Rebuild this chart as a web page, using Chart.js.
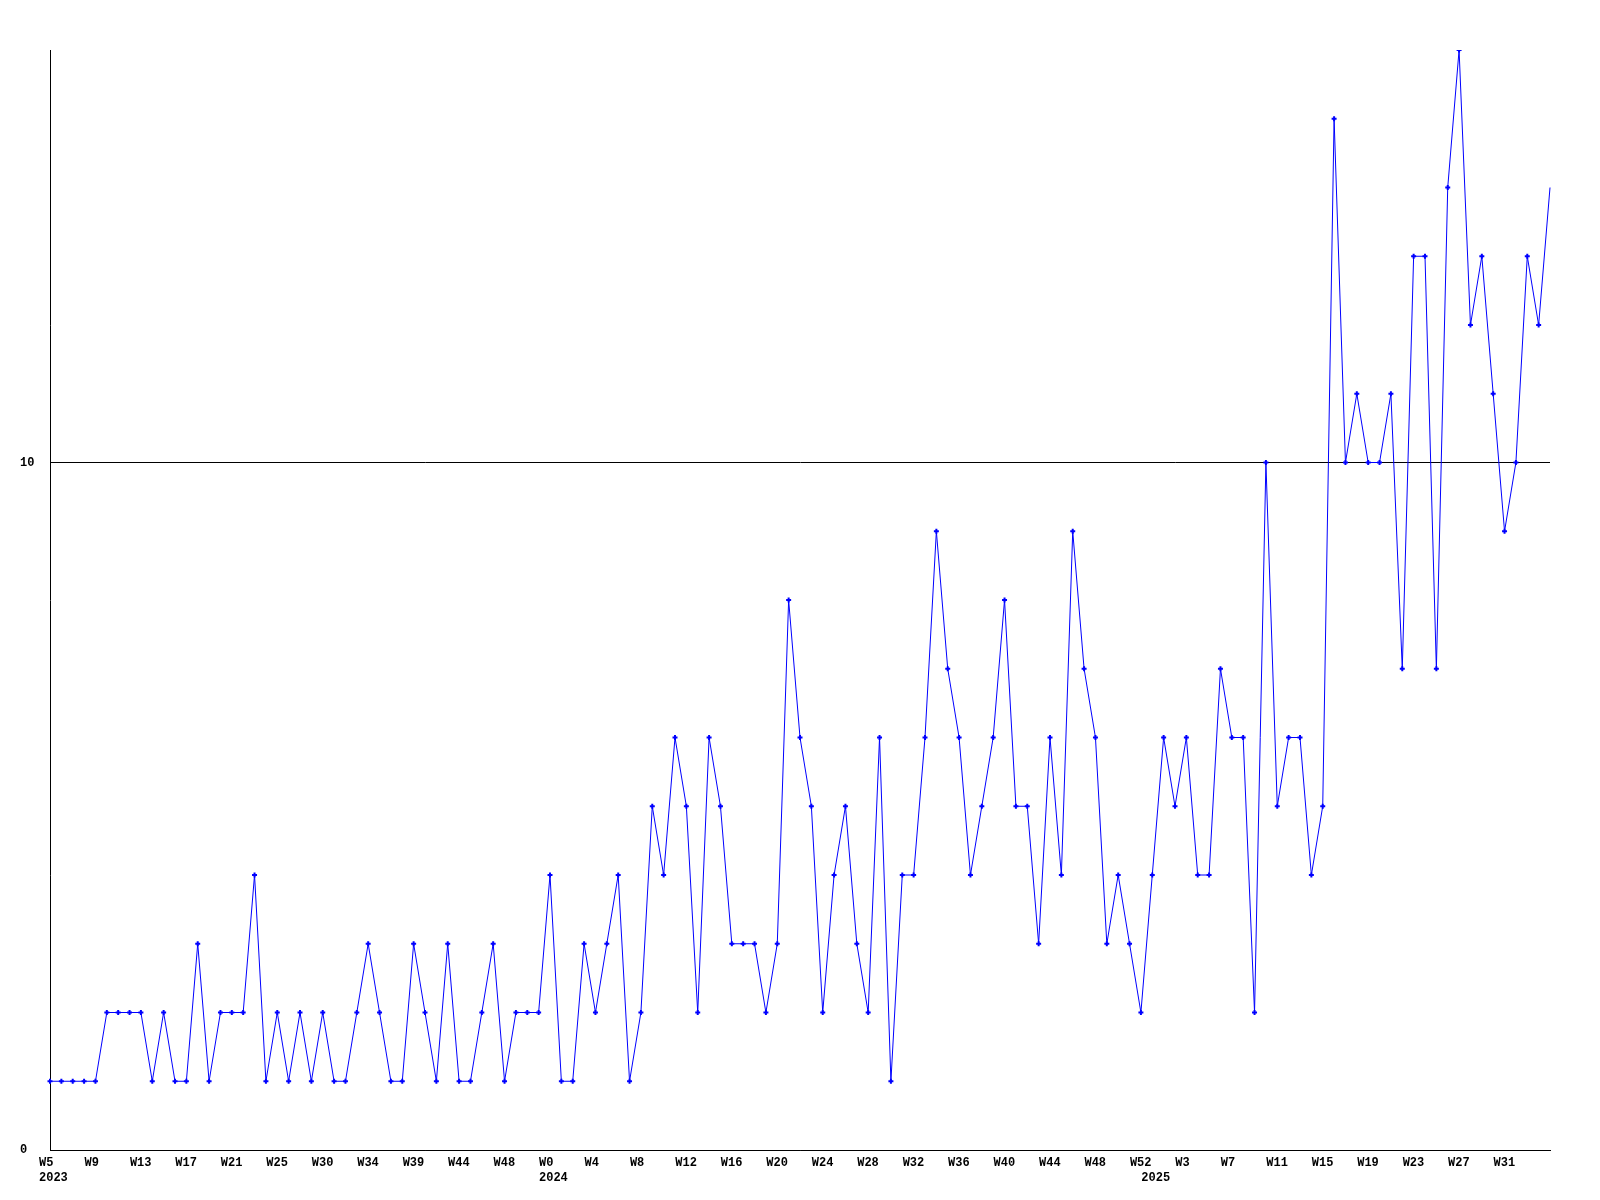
<!DOCTYPE html>
<html>
<head>
<meta charset="utf-8">
<title>Weekly count</title>
<script src="https://cdn.jsdelivr.net/npm/chart.js@4/dist/chart.umd.min.js"></script>
<style>
  html, body { margin: 0; padding: 0; background: #fff; }
  #wrap { width: 1600px; height: 1200px; }
</style>
</head>
<body>
<div id="wrap"><canvas id="weekChart" width="1600" height="1200"></canvas></div>
<script>
// week numbers per year (some 2023 weeks are absent from the data)
const weeks2023 = [5, 6, 7, 8, 9, 10, 11, 12, 13, 14, 15, 16, 17, 18, 19, 20, 21, 22, 23, 24, 25, 26,
    28, 29, 30, 31, 32, 33, 34, 35, 37, 38, 39, 40, 42, 43, 44, 45, 46, 47, 48, 49, 50, 51];
const weeks2024 = [0, 1, 2, 3, 4, 5, 6, 7, 8, 9, 10, 11, 12, 13, 14, 15, 16, 17, 18, 19, 20, 21, 22, 23, 24, 25, 26,
    27, 28, 29, 30, 31, 32, 33, 34, 35, 36, 37, 38, 39, 40, 41, 42, 43, 44, 45, 46, 47, 48, 49, 50, 51, 52];
const weeks2025 = [0, 1, 2, 3, 4, 5, 6, 7, 8, 9, 10, 11, 12, 13, 14, 15, 16, 17, 18, 19, 20, 21, 22, 23, 24, 25, 26,
    27, 28, 29, 30, 31, 32, 33, 34, 35];
const years = ['2023', '2024', '2025'];

const counts = [
    1, 1, 1, 1, 1, 2, 2, 2, 2, 1, 2, 1, 1, 3, 1, 2, 2, 2, 4, 1,
    2, 1, 2, 1, 2, 1, 1, 2, 3, 2, 1, 1, 3, 2, 1, 3, 1, 1, 2, 3,
    1, 2, 2, 2, 4, 1, 1, 3, 2, 3, 4, 1, 2, 5, 4, 6, 5, 2, 6, 5,
    3, 3, 3, 2, 3, 8, 6, 5, 2, 4, 5, 3, 2, 6, 1, 4, 4, 6, 9, 7,
    6, 4, 5, 6, 8, 5, 5, 3, 6, 4, 9, 7, 6, 3, 4, 3, 2, 4, 6, 5,
    6, 4, 4, 7, 6, 6, 2, 10, 5, 6, 6, 4, 5, 15, 10, 11, 10, 10, 11, 7,
    13, 13, 7, 14, 16, 12, 13, 11, 9, 10, 13, 12, 14
];

const yTicks = [0, 10];
const labelEvery = 4;

// build the category list and remember where each year starts
const labels = [];
const yearStart = {};
[weeks2023, weeks2024, weeks2025].forEach((wk, i) => {
    yearStart[labels.length] = years[i];
    wk.forEach(w => labels.push('W' + w));
});

const lastIndex = counts.length - 1;

new Chart(document.getElementById('weekChart'), {
    type: 'line',
    data: {
        labels: labels,
        datasets: [{
            data: counts,
            borderColor: '#0000ff',
            backgroundColor: '#0000ff',
            borderWidth: 1,
            tension: 0,
            fill: false,
            pointStyle: 'cross',
            pointBorderWidth: 2,
            pointRadius: ctx => ctx.dataIndex === lastIndex ? 0 : 2.5,
            pointHoverRadius: 0
        }]
    },
    options: {
        responsive: false,
        animation: false,
        events: [],
        layout: { padding: { left: 20, right: 50, top: 50, bottom: 0 } },
        plugins: {
            legend: { display: false },
            tooltip: { enabled: false }
        },
        scales: {
            x: {
                type: 'category',
                offset: false,
                grid: { display: false, drawTicks: false },
                border: { display: true, color: '#000', width: 1 },
                afterFit: s => { s.height = 50; },
                ticks: {
                    autoSkip: false,
                    maxRotation: 0,
                    minRotation: 0,
                    align: 'start',
                    labelOffset: -11,
                    padding: 5,
                    color: '#000',
                    font: { family: 'Liberation Mono', size: 12, weight: 'bold', lineHeight: '15px' },
                    callback: function(value, index) {
                        // the final point sits on the right edge and carries no label
                        if (index === lastIndex) return null;
                        const wk = index % labelEvery === 0 ? labels[index] : '';
                        const yr = yearStart[index];
                        if (yr) return [wk, yr];
                        return wk || null;
                    }
                }
            },
            y: {
                min: 0,
                max: 16,
                afterBuildTicks: s => { s.ticks = yTicks.map(v => ({ value: v })); },
                afterFit: s => { s.width = 30; },
                grid: { color: '#000', lineWidth: 1, drawTicks: false },
                border: { display: true, color: '#000', width: 1 },
                ticks: {
                    crossAlign: 'far',
                    padding: 0,
                    color: '#000',
                    font: { family: 'Liberation Mono', size: 12, weight: 'bold' }
                }
            }
        }
    }
});
</script>
</body>
</html>
